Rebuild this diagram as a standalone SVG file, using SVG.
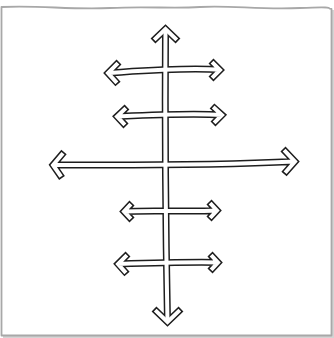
<svg xmlns="http://www.w3.org/2000/svg" width="334" height="338" viewBox="0 0 334 338">
<style>
.frame{fill:none;stroke:#a8a8a8;stroke-width:1.8;stroke-linejoin:round}
.shadow{fill:none;stroke:#d4d4d4;stroke-width:2.5}
.o{fill:none;stroke:#1e1e1e;stroke-width:7;stroke-linejoin:miter;stroke-miterlimit:10;stroke-linecap:butt}
.i{fill:none;stroke:#ffffff;stroke-width:4;stroke-linejoin:miter;stroke-miterlimit:10;stroke-linecap:butt}
</style>
<rect width="334" height="338" fill="#ffffff"/>
<g id="frame">
<path class="shadow" d="M3,337 L333,337 L333,10"/>
<path class="frame" d="M1.5,7 C40,5 70,10 110,8 S170,9 200,7 S260,10 300,8 S325,9 331.5,9 C332,120 331,230 331.5,335.5 C230,336 120,335 1.5,335.5 C2,230 1,120 1.5,7 Z"/>
</g>
<g id="connectors">
<g id="outlines">
<path class="o" d="M165.5,29 Q164.5,170 167.5,322"/>
<path class="o" d="M153,41 L165.5,29 L178,41 M154,309 L167.5,322 L181,309"/>
<path class="o" d="M108,73 C140,71 190,67 220,70 M119,62 L108,73 L118,84 M211,61 L220,70 L211,79"/>
<path class="o" d="M117,116.5 C150,115 190,113 222,115 M127,107 L117,116.5 L126,126 M212,106 L222,115 L213,124"/>
<path class="o" d="M53,165 C130,165 200,166 295,161.5 M64,152 L53,165 L62,178 M283,149 L295,161.5 L284,174"/>
<path class="o" d="M124,211.5 C150,210 190,212 217,210.5 M132,203 L124,211.5 L132,220 M209,202 L217,210.5 L209,219"/>
<path class="o" d="M118,264 C150,263 190,262 218,262.5 M128,254 L118,264 L127,274 M210,254 L218,262.5 L210,271"/>
</g>
<g id="fills">
<path class="i" d="M165.5,29 Q164.5,170 167.5,322"/>
<path class="i" d="M154.2,39.9 L165.5,29 L176.8,39.9 M155.2,310.1 L167.5,322 L179.8,310.1"/>
<path class="i" d="M108,73 C140,71 190,67 220,70 M117.9,63.1 L108,73 L116.9,82.8 M212.1,62.1 L220,70 L212.1,77.9"/>
<path class="i" d="M117,116.5 C150,115 190,113 222,115 M125.8,108.1 L117,116.5 L124.9,124.8 M213.2,107.1 L222,115 L214.1,122.9"/>
<path class="i" d="M53,165 C130,165 200,166 295,161.5 M63,153.2 L53,165 L61.1,176.7 M284.1,150.2 L295,161.5 L285.1,172.8"/>
<path class="i" d="M124,211.5 C150,210 190,212 217,210.5 M130.9,204.2 L124,211.5 L130.9,218.8 M210.1,203.2 L217,210.5 L210.1,217.8"/>
<path class="i" d="M118,264 C150,263 190,262 218,262.5 M126.9,255.1 L118,264 L125.9,272.8 M211.1,255.2 L218,262.5 L211.1,269.8"/>
</g>
</g>
</svg>
